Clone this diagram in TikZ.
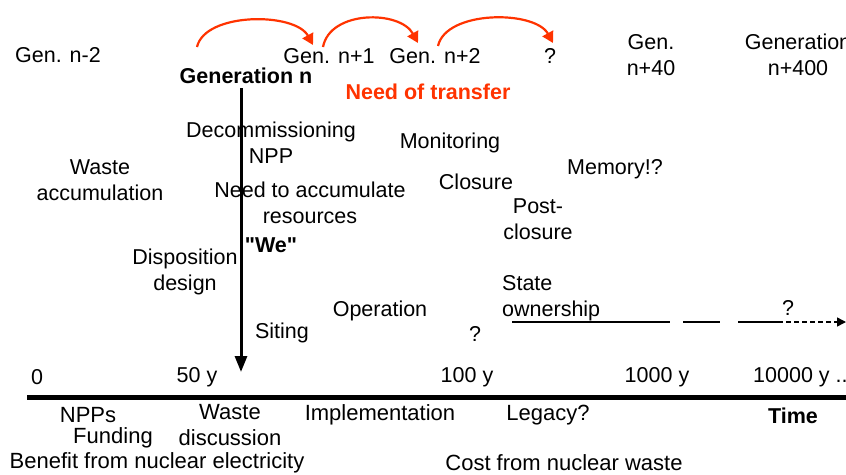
\documentclass[tikz,border=0pt]{standalone}
\usepackage{fontspec}
\setmainfont{Liberation Sans}
\newfontfamily\plainqf{Liberation Sans}
\usetikzlibrary{arrows.meta}
\definecolor{tred}{HTML}{FF3300}
\begin{document}
\begin{tikzpicture}[x=1pt,y=-1pt,
  lbl/.style={inner sep=0pt,align=center,font=\fontsize{21.5}{26}\selectfont},
  blbl/.style={lbl,font=\fontsize{21.5}{26}\selectfont\bfseries},
  wlbl/.style={inner sep=0pt,align=center,font=\fontsize{22}{26}\selectfont},
  redarc/.style={draw=tred,line width=2.2pt,-{Triangle[length=11pt,width=12pt]}},
  ]
\useasboundingbox (0,0) rectangle (846,474);
% top generations
\node[lbl] (gn2) at (58,55) {Gen. n-2};
\node[blbl] (gn) at (246,76) {Generation n};
\node[lbl] (gn1) at (329,56) {Gen. n+1};
\node[lbl] (gnp2) at (435,56) {Gen. n+2};
\node[lbl] (gq) at (550,56) {?};
\node[lbl] (g40) at (651,55) {Gen.\\n+40};
\node[lbl] (g400) at (798,55) {Generation\\n+400};
\node[blbl,text=tred] (need) at (428,92) {Need of transfer};
% red arcs
\coordinate (a1) at (197,47);
\coordinate (b1) at (313,45);
\coordinate (a2) at (323,47);
\coordinate (b2) at (418,43);
\coordinate (a3) at (438,46);
\coordinate (b3) at (553,43);
\draw[redarc] (a1) .. controls (205,12) and (295,12) .. (b1);
\draw[redarc] (a2) .. controls (330,10) and (400,10) .. (b2);
\draw[redarc] (a3) .. controls (446,10) and (535,10) .. (b3);
% vertical arrow
\coordinate (vtop) at (241,88);
\coordinate (vbot) at (241,372);
\draw[line width=3pt,-{Triangle[length=16pt,width=12pt]}] (vtop) -- (vbot);
% middle texts
\node[lbl] (decom) at (271,143) {Decommissioning\\NPP};
\node[lbl] (waste) at (100,180) {Waste\\accumulation};
\node[lbl] (needacc) at (310,203) {Need to accumulate\\resources};
\node[blbl] (we) at (271,245) {\plainqf\bfseries "We"};
\node[lbl] (disp) at (185,272) {Disposition\\design};
\node[lbl] (siting) at (282,333) {Siting};
\node[lbl] (oper) at (380,311) {Operation};
\node[lbl] (q1) at (475,334) {?};
\node[lbl] (monit) at (450,143) {Monitoring};
\node[lbl] (clos) at (476,182) {Closure};
\node[lbl] (post) at (538,219) {Post-\\closure};
\node[lbl] (mem) at (615,169) {Memory!?};
\node[lbl,anchor=west,align=left] (state) at (502,298) {State\\ownership};
\node[lbl] (q2) at (788,308) {?};
% state ownership line
\coordinate (s1) at (512,322);
\coordinate (s2) at (670,322);
\coordinate (s3) at (683,322);
\coordinate (s4) at (720,322);
\coordinate (s5) at (738,322);
\coordinate (s6) at (778,322);
\coordinate (s7) at (846,322);
\draw[line width=1.5pt] (s1) -- (s2);
\draw[line width=1.5pt] (s3) -- (s4);
\draw[line width=1.5pt] (s5) -- (s6);
\draw[line width=1.5pt,dash pattern=on 5pt off 3pt,-{Triangle[length=9pt,width=9pt]}] (s6) -- (s7);
% axis labels
\node[lbl] (t0) at (37,377) {0};
\node[lbl] (t50) at (197,377) {50 y};
\node[lbl] (t100) at (467,377) {100 y};
\node[lbl] (t1000) at (657,377) {1000 y};
\node[lbl,anchor=west] (t10000) at (753,377) {10000 y ..};
% axis
\coordinate (ax0) at (27,397);
\coordinate (ax1) at (846,397);
\draw[line width=5pt] (ax0) -- (ax1);
% bottom texts
\node[wlbl] (npps) at (88,415) {NPPs};
\node[wlbl] (fund) at (113,438) {Funding};
\node[wlbl] (wdisc) at (230,425) {Waste\\discussion};
\node[wlbl] (impl) at (380,415) {Implementation};
\node[wlbl] (leg) at (548,415) {Legacy?};
\node[blbl] (time) at (793,416) {Time};
\node[wlbl] (ben) at (157,463) {Benefit from nuclear electricity};
\node[wlbl] (cost) at (564,463) {Cost from nuclear waste};
\end{tikzpicture}
\end{document}
